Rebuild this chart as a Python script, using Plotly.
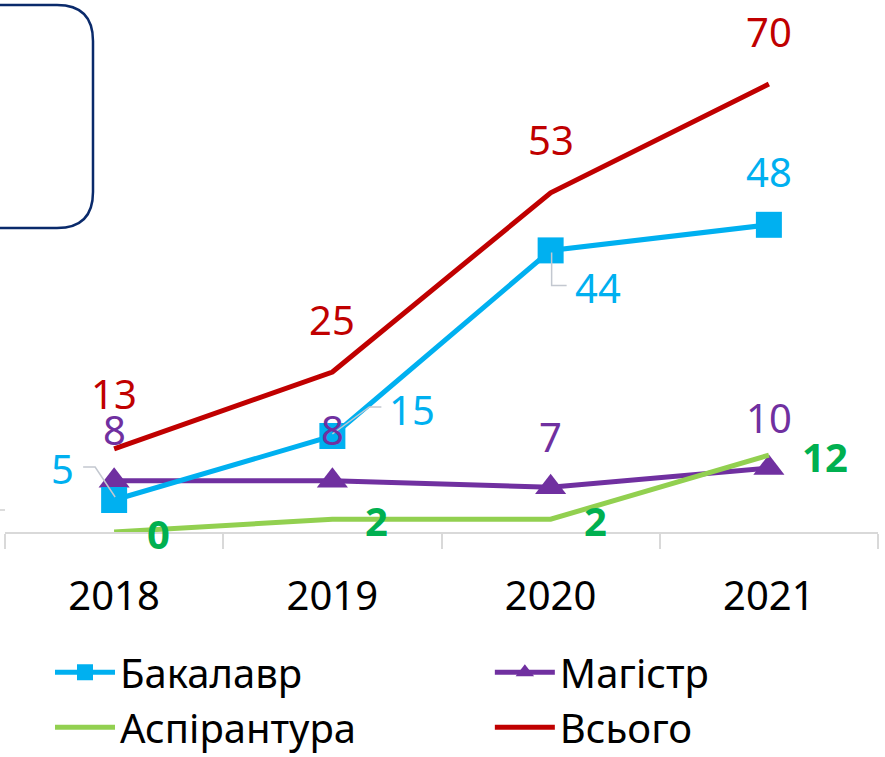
import plotly.graph_objects as go

years = ["2018", "2019", "2020", "2021"]
bachelor = [5, 15, 44, 48]
master = [8, 8, 7, 10]
phd = [0, 2, 2, 12]
total = [13, 25, 53, 70]

BLUE = "#00B0F0"
PURPLE = "#7030A0"
LGREEN = "#92D050"
GREEN = "#00B050"
RED = "#C00000"
FONT = "Noto Sans"

fig = go.Figure()

fig.add_trace(go.Scatter(x=years, y=master, name="Магістр", mode="lines+markers",
                         line=dict(color=PURPLE, width=5),
                         marker=dict(symbol="triangle-up", size=27, color=PURPLE),
                         legend="legend2", legendrank=1, cliponaxis=False))
fig.add_trace(go.Scatter(x=years, y=bachelor, name="Бакалавр", mode="lines+markers",
                         line=dict(color=BLUE, width=5),
                         marker=dict(symbol="square", size=26, color=BLUE),
                         legend="legend", legendrank=1, cliponaxis=False))
fig.add_trace(go.Scatter(x=years, y=phd, name="Аспірантура", mode="lines",
                         line=dict(color=LGREEN, width=5),
                         legend="legend", legendrank=2, cliponaxis=False))
fig.add_trace(go.Scatter(x=years, y=total, name="Всього", mode="lines",
                         line=dict(color=RED, width=5),
                         legend="legend2", legendrank=2, cliponaxis=False))


def label(i, y, color, xs=0, ys=0, bold=False, anchor="center"):
    # category axis: annotation x is the category index
    t = str(y)
    if bold:
        t = "<b>" + t + "</b>"
    fig.add_annotation(x=i, y=y, text=t, showarrow=False, xshift=xs, yshift=ys,
                       xanchor=anchor, font=dict(family=FONT, size=40, color=color))


red_shift = [55, 53, 53, 53]
for i, v in enumerate(total):
    label(i, v, RED, ys=red_shift[i])
for i, v in enumerate(master):
    label(i, v, PURPLE, ys=51)
for i, v in enumerate(phd):
    label(i, v, GREEN, xs=31, ys=-1, bold=True, anchor="left")

blue_shift = [(-52, 32), (80, 27), (47, -37), (0, 53)]
for i, v in enumerate(bachelor):
    label(i, v, BLUE, xs=blue_shift[i][0], ys=blue_shift[i][1])

# leader lines (pixel offsets from the data point)
leaders = {0: "M1,3 L-19,33 L-31,33", 1: "M0,2 L37,29 L49,29", 2: "M1,-2 L1,-35 L16,-35"}
shapes = []
for i, p in leaders.items():
    shapes.append(dict(type="path", xref="x", yref="y", xsizemode="pixel", ysizemode="pixel",
                       xanchor=i, yanchor=bachelor[i], path=p,
                       line=dict(color="#C3C8D0", width=1.5)))

# rounded frame at top-left
shapes.append(dict(type="path", xref="paper", yref="paper", xsizemode="pixel", ysizemode="pixel",
                   xanchor=0, yanchor=1,
                   path="M-60,47 L52,47 Q88,47 88,11 L88,-140 Q88,-176 52,-176 L-60,-176",
                   line=dict(color="#0A2A6B", width=2.5)))
# small stub at the left edge
shapes.append(dict(type="line", xref="paper", yref="paper", xsizemode="pixel", ysizemode="pixel",
                   xanchor=0, yanchor=0, x0=-5, x1=0, y0=22, y1=22,
                   line=dict(color="#D0D0D0", width=1.5)))

fig.update_layout(
    width=885, height=757,
    margin=dict(l=5, r=7, t=52, b=225, autoexpand=False),
    paper_bgcolor="white", plot_bgcolor="white",
    font=dict(family=FONT, color="black"),
    showlegend=True,
    shapes=shapes,
    xaxis=dict(type="category", tickson="boundaries", showgrid=False, zeroline=False,
               showline=True, linecolor="#D9D9D9", linewidth=1.5,
               ticks="outside", ticklen=15, tickcolor="#D9D9D9", tickwidth=1.5,
               tickfont=dict(family=FONT, size=40, color="black"),
               ticklabelstandoff=28, range=[-0.5, 3.5], automargin=False),
    yaxis=dict(visible=False, range=[0, 75], fixedrange=True),
    legend=dict(xref="container", yref="container", x=0.0565, y=0.155,
                xanchor="left", yanchor="top", orientation="v",
                font=dict(family=FONT, size=40, color="black"), itemwidth=60,
                bgcolor="rgba(0,0,0,0)", tracegroupgap=0),
    legend2=dict(xref="container", yref="container", x=0.5535, y=0.155,
                 xanchor="left", yanchor="top", orientation="v",
                 font=dict(family=FONT, size=40, color="black"), itemwidth=60,
                 bgcolor="rgba(0,0,0,0)", tracegroupgap=0),
)

fig.write_html("out.html", config={"displayModeBar": False},
               post_script="document.body.style.margin='0';")
